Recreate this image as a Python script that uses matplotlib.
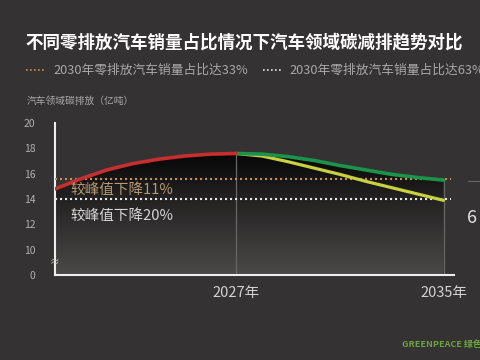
import numpy as np
import matplotlib
matplotlib.use("Agg")
import matplotlib.pyplot as plt
from matplotlib.colors import LinearSegmentedColormap

plt.rcParams['font.family'] = ['Noto Sans CJK SC', 'DejaVu Sans']

# data
years_rise = [2020, 2021, 2022, 2023, 2024, 2025, 2026, 2027]
rise = [14.8, 15.6, 16.3, 16.8, 17.15, 17.4, 17.55, 17.6]
years_fall = [2027, 2028, 2029, 2030, 2031, 2032, 2033, 2034, 2035]
fall_33 = [17.6, 17.55, 17.35, 17.05, 16.65, 16.3, 15.95, 15.7, 15.5]
fall_63 = [17.6, 17.4, 16.95, 16.45, 15.95, 15.4, 14.9, 14.4, 13.9]
level_11 = 15.6
level_20 = 14.0
yticks = [8, 10, 12, 14, 16, 18, 20]
ytick_labels = ['0', '10', '12', '14', '16', '18', '20']
xticks = [2027, 2035]
xtick_labels = ['2027年', '2035年']

bg = '#353233'
fig = plt.figure(figsize=(4.8, 3.6), dpi=100, facecolor=bg)
ax = fig.add_axes([0.1146, 0.236, 0.831, 0.422])
ax.set_facecolor(bg)
ax.set_xlim(2020, 2035.4)
ax.set_ylim(8, 20)

# gradient fill under the upper curve
top_x = years_rise + years_fall[1:]
top_y = rise + fall_33[1:]
poly = ax.fill_between(top_x, top_y, 8, color='none', lw=0)
cmap = LinearSegmentedColormap.from_list(
    'g', [(0, '#060606'), (0.35, '#222020'), (1, '#4b4848')])
grad = np.linspace(0, 1, 256).reshape(-1, 1)
im = ax.imshow(grad, cmap=cmap, aspect='auto', extent=[2020, 2035, 8, 17.6],
               origin='upper', zorder=1)
im.set_clip_path(poly.get_paths()[0], transform=ax.transData)

ax.vlines(2027, 8, 17.6, color='#6a6666', lw=0.9, zorder=2)
ax.vlines(2035, 8, 15.5, color='#6a6666', lw=0.9, zorder=2)

ax.hlines(level_11, 2020, 2035.3, color='#c8914e', lw=1.5,
          linestyles=(0, (1, 1.4)), zorder=3)
ax.hlines(level_20, 2020, 2035.3, color='#e6e6e6', lw=1.5,
          linestyles=(0, (1, 1.4)), zorder=3)

ax.plot(years_fall, fall_63, color='#c9d13e', lw=2.3, zorder=4,
        solid_capstyle='round')
ax.plot(years_fall, fall_33, color='#199448', lw=2.6, zorder=5,
        solid_capstyle='round')
ax.plot(years_rise, rise, color='#c62f2d', lw=2.6, zorder=6,
        solid_capstyle='round')

ax.text(2020.6, 14.75, '较峰值下降11%', color='#b49a70', fontsize=10.5,
        va='center', zorder=7)
ax.text(2020.6, 12.7, '较峰值下降20%', color='#d6d6d6', fontsize=10.5,
        va='center', zorder=7)
ax.text(2020, 9.0, '≈', color='#cccccc', fontsize=7, ha='center',
        va='center', zorder=7)

for s in ['top', 'right']:
    ax.spines[s].set_visible(False)
for s in ['left', 'bottom']:
    ax.spines[s].set_color('#eeeeee')
    ax.spines[s].set_linewidth(1.5)
ax.set_yticks(yticks)
ax.set_yticklabels(ytick_labels)
ax.set_xticks(xticks)
ax.set_xticklabels(xtick_labels)
ax.tick_params(axis='y', length=0, pad=14, labelsize=7.5, labelcolor='#b0b0b0')
ax.tick_params(axis='x', length=0, pad=8, labelsize=10.5, labelcolor='#d2d2d2')

fig.text(0.052, 1 - 42 / 360, '不同零排放汽车销量占比情况下汽车领域碳减排趋势对比',
         color='white', fontsize=12.6, fontweight='bold', va='center')

fig.add_artist(plt.Line2D([26 / 480, 45 / 480], [1 - 70 / 360] * 2,
                          color='#c8914e', lw=1.2, ls=(0, (1, 1.4))))
fig.text(53 / 480, 1 - 70 / 360, '2030年零排放汽车销量占比达33%',
         color='#a8a8a8', fontsize=9.2, va='center')
fig.add_artist(plt.Line2D([263 / 480, 282 / 480], [1 - 70 / 360] * 2,
                          color='#e6e6e6', lw=1.2, ls=(0, (1, 1.4))))
fig.text(289 / 480, 1 - 70 / 360, '2030年零排放汽车销量占比达63%',
         color='#a8a8a8', fontsize=9.2, va='center')

fig.text(27 / 480, 1 - 101 / 360, '汽车领域碳排放（亿吨）', color='#a8a8a8',
         fontsize=7, va='center')

fig.add_artist(plt.Line2D([468 / 480, 1.0], [1 - 181 / 360] * 2,
                          color='#6a6666', lw=0.8))
fig.text(467 / 480, 1 - 218 / 360, '6', color='#e0e0e0', fontsize=13,
         va='center')
fig.text(402 / 480, 1 - 344 / 360, 'GREENPEACE 绿色和平', color='#6aa53a',
         fontsize=6.5, fontweight='bold', style='italic', va='center')

fig.savefig('out.png', dpi=100, facecolor=bg)
